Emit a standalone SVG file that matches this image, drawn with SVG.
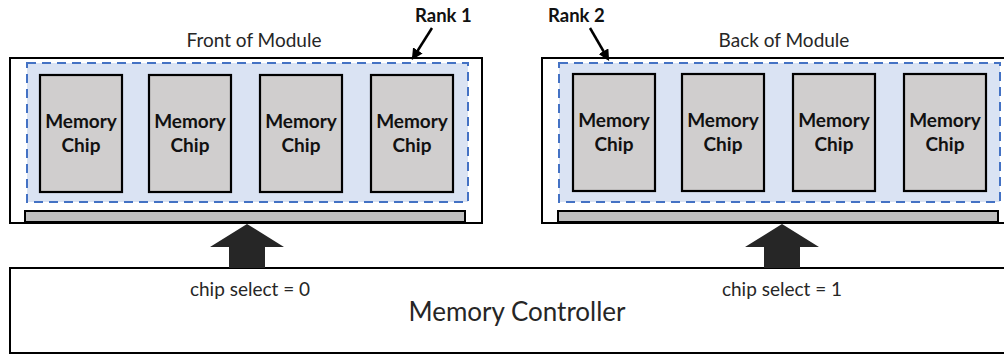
<svg xmlns="http://www.w3.org/2000/svg" width="1004" height="355" viewBox="0 0 1004 355">
  <style>
    .board { fill: #ffffff; stroke: #000000; stroke-width: 2; }
    .rank { fill: #dae3f3; stroke: #4472c4; stroke-width: 2; stroke-dasharray: 9 6; }
    .chip { fill: #d0cece; stroke: #000000; stroke-width: 2.2; }
    .edge { fill: #bfbfbf; stroke: #000000; stroke-width: 2; }
    .chiplabel { font-family: Lato, "Liberation Sans", sans-serif; font-weight: bold; font-size: 19px; fill: #111111; text-anchor: middle; }
    .label { font-family: Lato, "Liberation Sans", sans-serif; font-size: 19px; fill: #262626; text-anchor: middle; }
    .ranklabel { font-family: Lato, "Liberation Sans", sans-serif; font-weight: bold; font-size: 18.5px; fill: #111111; }
    .big { font-family: Lato, "Liberation Sans", sans-serif; font-size: 26px; fill: #262626; text-anchor: middle; }
    .bus { fill: #262626; }
    .pointer { stroke: #000000; stroke-width: 2.5; fill: none; }
  </style>
  <defs>
    <marker id="head" viewBox="0 0 10 10" refX="8" refY="5" markerWidth="4.5" markerHeight="4.5" orient="auto" markerUnits="strokeWidth">
      <path d="M0,0 L10,5 L0,10 z" fill="#000000"/>
    </marker>
    <g id="chip">
      <rect class="chip" x="0" y="0" width="82" height="117"/>
      <text class="chiplabel" x="41" y="53">Memory</text>
      <text class="chiplabel" x="41" y="77">Chip</text>
    </g>
  </defs>

  <!-- front side of the module: rank 1 -->
  <g id="module-front">
    <rect class="board" x="10" y="58" width="472" height="165"/>
    <rect class="rank" x="27" y="63" width="441" height="139"/>
    <rect class="edge" x="25" y="211" width="440" height="11"/>
    <text class="label" x="254" y="47">Front of Module</text>
  </g>
  <g id="front-chip-1"><use href="#chip" x="40" y="75"/></g>
  <g id="front-chip-2"><use href="#chip" x="149" y="75"/></g>
  <g id="front-chip-3"><use href="#chip" x="260" y="75"/></g>
  <g id="front-chip-4"><use href="#chip" x="371" y="75"/></g>

  <!-- back side of the module: rank 2 -->
  <g id="module-back">
    <rect class="board" x="542" y="58" width="472" height="165"/>
    <rect class="rank" x="559" y="63" width="441" height="139"/>
    <rect class="edge" x="558" y="211" width="440" height="11"/>
    <text class="label" x="784" y="47">Back of Module</text>
  </g>
  <g id="back-chip-1"><use href="#chip" x="573" y="74"/></g>
  <g id="back-chip-2"><use href="#chip" x="682" y="74"/></g>
  <g id="back-chip-3"><use href="#chip" x="793" y="74"/></g>
  <g id="back-chip-4"><use href="#chip" x="904" y="74"/></g>

  <!-- controller -->
  <g id="controller">
    <rect class="board" x="10" y="268" width="1004" height="85"/>
    <text class="big" x="517" y="321">Memory Controller</text>
    <text class="label" x="250" y="296">chip select = 0</text>
    <text class="label" x="782" y="296">chip select = 1</text>
  </g>

  <!-- rank labels -->
  <g id="rank-1-label"><text class="ranklabel" x="415" y="22">Rank 1</text></g>
  <g id="rank-2-label"><text class="ranklabel" x="548" y="22">Rank 2</text></g>

  <!-- connectors -->
  <g id="connectors">
    <path class="bus" d="M247,224 L284,247 L265,247 L265,268 L229,268 L229,247 L210,247 Z"/>
    <path class="bus" d="M782,224 L819,247 L800,247 L800,268 L764,268 L764,247 L745,247 Z"/>
    <line class="pointer" x1="432" y1="28" x2="413" y2="58" marker-end="url(#head)"/>
    <line class="pointer" x1="590" y1="28" x2="608" y2="59" marker-end="url(#head)"/>
  </g>
</svg>
